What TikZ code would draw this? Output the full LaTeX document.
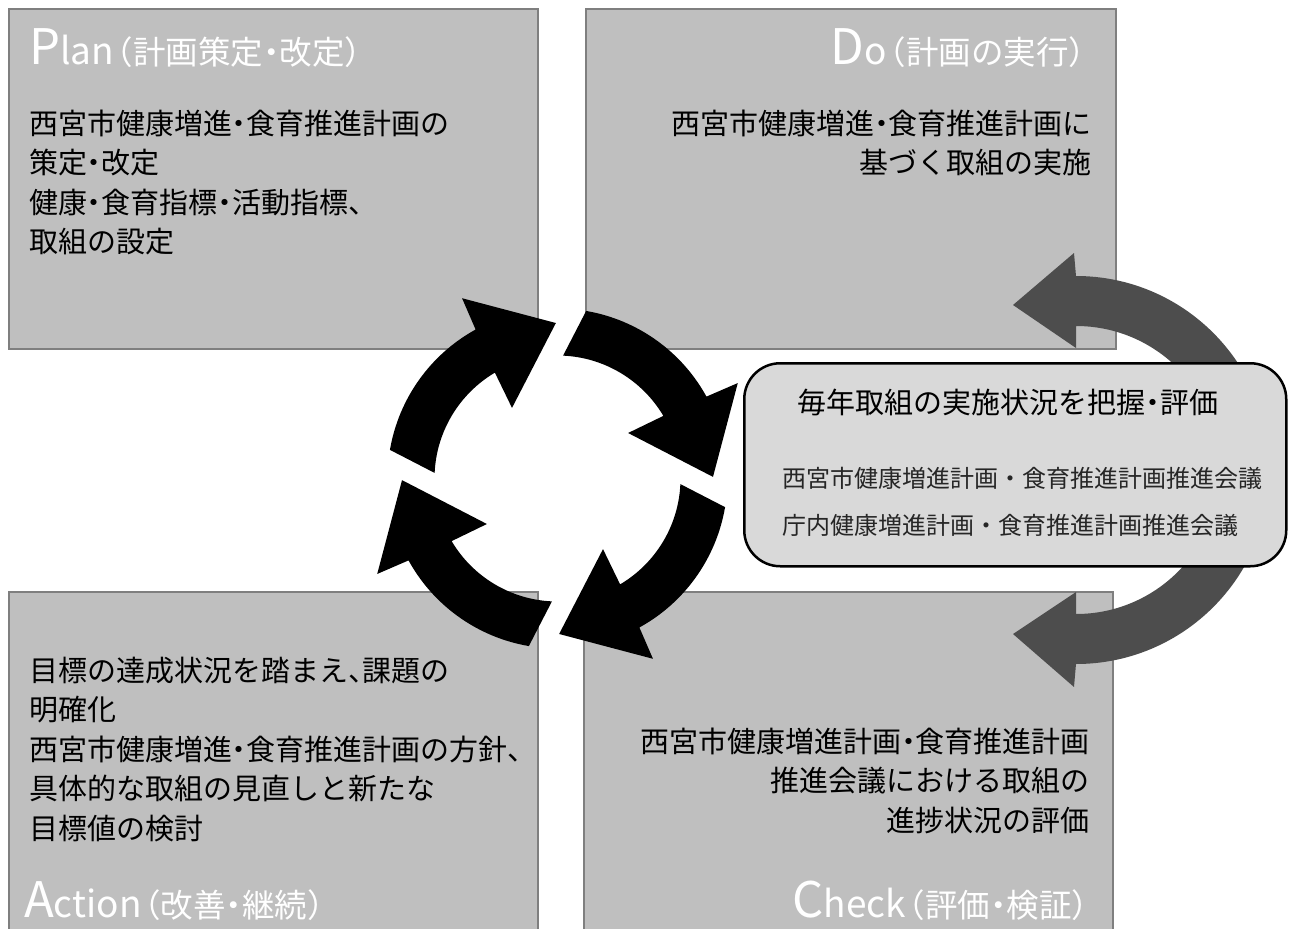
\documentclass[tikz,border=0pt]{standalone}
\usepackage{fontspec}
\setmainfont{Noto Sans CJK JP}
\newfontfamily\jphalf[RawFeature=+halt]{Noto Sans CJK JP}
\newcommand{\hw}[1]{{\jphalf #1}}
\definecolor{panelgray}{HTML}{BFBFBF}
\definecolor{bordergray}{HTML}{7F7F7F}
\definecolor{arrowgray}{HTML}{4D4D4D}
\definecolor{centerfill}{HTML}{D9D9D9}
\definecolor{smallgray}{HTML}{262626}
\newcommand{\TBig}[1]{{\fontsize{49}{49}\selectfont #1}}
\newcommand{\TMid}[1]{{\fontsize{37}{37}\selectfont #1}}
\newcommand{\TJp}[1]{{\fontsize{32.5}{32.5}\selectfont\kern3pt #1}}
\tikzset{
  panel/.style={fill=panelgray, draw=bordergray, line width=2pt, minimum width=529, minimum height=340, anchor=north west, inner sep=0},
  cbox/.style={fill=centerfill, draw=black, line width=2.5pt, rounded corners=36pt, minimum width=542, minimum height=203, anchor=north west, inner sep=0},
  body/.style={inner sep=0, font=\fontsize{29}{39.5}\selectfont, text=black},
  ttl/.style={inner sep=0, text=white},
  small/.style={inner sep=0, font=\fontsize{24}{30}\selectfont, text=smallgray},
  blackarrow/.style={fill=black},
  grayarrow/.style={fill=arrowgray},
}
\begin{document}
\begin{tikzpicture}[x=1pt, y=-1pt]
\useasboundingbox (0,0) rectangle (1294,929);
\fill[white] (0,0) rectangle (1294,929);
% panels
\node[panel] (plan) at (8,8) {};
\node[panel, minimum width=530] (do) at (585,8) {};
\node[panel, minimum height=350] (act) at (8,591) {};
\node[panel, minimum height=350] (chk) at (583,591) {};
% gray side arrows
\begin{scope}[shift={(1076,470)}, yscale=-1]
  \fill[grayarrow] (0:194) arc[start angle=0, end angle=90, radius=194] -- (-2,217) -- (-63,165) -- (0,122) -- (0,144) arc[start angle=90, end angle=0, radius=144] -- cycle;
  \fill[grayarrow] (0:194) arc[start angle=0, end angle=-90, radius=194] -- (-2,-217) -- (-63,-164) -- (0,-122) -- (0,-144) arc[start angle=-90, end angle=0, radius=144] -- cycle;
\end{scope}
% center box
\node[cbox] (mon) at (743,362) {};
% black cycle arrows
\begin{scope}[shift={(557.5,478.5)}, yscale=-1]
\foreach \k in {0,1,2,3} {
  \fill[blackarrow] ({170.3-90*\k}:170) arc[start angle={170.3-90*\k}, end angle={118.8-90*\k}, radius=170]
    -- ({117.9-90*\k}:204) -- ({90.6-90*\k}:155.5) -- ({122.8-90*\k}:84) -- ({120.6-90*\k}:123)
    arc[start angle={120.6-90*\k}, end angle={177.4-90*\k}, radius=123] -- cycle;
}
\end{scope}
% titles
\node[ttl, anchor=base west] (planT) at (29,64) {\TBig{P}\TMid{lan}\TJp{\hw{（}計画策定\hw{・}改定\hw{）}}};
\node[ttl, anchor=base east] (doT) at (1085,64) {\TBig{D}\TMid{o}\TJp{\hw{（}計画の実行\hw{）}}};
\node[ttl, anchor=base west] (actT) at (24,917) {\TBig{A}\TMid{ction}\TJp{\hw{（}改善\hw{・}継続\hw{）}}};
\node[ttl, anchor=base east] (chkT) at (1088,917) {\TBig{C}\TMid{heck}\TJp{\hw{（}評価\hw{・}検証\hw{）}}};
% plan body
\node[body, anchor=base west] (p1) at (29,134) {西宮市健康増進\hw{・}食育推進計画の};
\node[body, anchor=base west] (p2) at (29,173.5) {策定\hw{・}改定};
\node[body, anchor=base west] (p3) at (29,213) {健康\hw{・}食育指標\hw{・}活動指標、};
\node[body, anchor=base west] (p4) at (29,252.5) {取組の設定};
% do body
\node[body, anchor=base east] (d1) at (1092,134) {西宮市健康増進\hw{・}食育推進計画に};
\node[body, anchor=base east] (d2) at (1092,173.5) {基づく取組の実施};
% action body
\node[body, anchor=base west] (a1) at (29,681) {目標の達成状況を踏まえ\hw{、}課題の};
\node[body, anchor=base west] (a2) at (29,720.5) {明確化};
\node[body, anchor=base west] (a3) at (29,760) {西宮市健康増進\hw{・}食育推進計画の方針、};
\node[body, anchor=base west] (a4) at (29,799.5) {具体的な取組の見直しと新たな};
\node[body, anchor=base west] (a5) at (29,839) {目標値の検討};
% check body
\node[body, anchor=base east] (c1) at (1090,752) {西宮市健康増進計画\hw{・}食育推進計画};
\node[body, anchor=base east] (c2) at (1090,791.5) {推進会議における取組の};
\node[body, anchor=base east] (c3) at (1090,831) {進捗状況の評価};
% center box text
\node[body, anchor=base] (m1) at (1008,413) {毎年取組の実施状況を把握\hw{・}評価};
\node[small, anchor=base west] (m2) at (782,487) {西宮市健康増進計画・食育推進計画推進会議};
\node[small, anchor=base west] (m3) at (782,534) {庁内健康増進計画・食育推進計画推進会議};
\end{tikzpicture}
\end{document}
